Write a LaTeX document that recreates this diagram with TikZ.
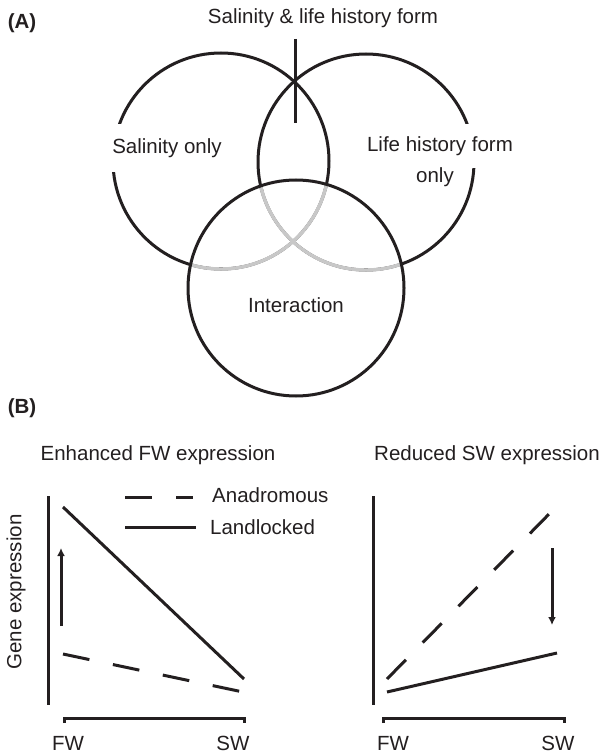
\documentclass[tikz,border=0pt]{standalone}
\usepackage{fontspec}
\setmainfont{Liberation Sans}
\usetikzlibrary{arrows.meta}
\definecolor{ink}{RGB}{35,31,32}
\definecolor{paleline}{RGB}{200,200,200}

\begin{document}
\begin{tikzpicture}[x=1pt,y=-1pt,
    every node/.style={font=\fontsize{20.5pt}{24pt}\selectfont, text=ink, inner sep=1pt},
    venn/.style={draw=ink, line width=3pt},
    axis/.style={draw=ink, line width=3pt},
    landlocked/.style={draw=ink, line width=3pt},
    anadromous/.style={draw=ink, line width=3pt, dash pattern=on 27pt off 24pt},
    shiftarrow/.style={draw=ink, line width=3pt, -{Latex[length=8pt,width=8pt]}},
    panel/.style={font=\fontsize{20.5pt}{24pt}\selectfont\bfseries}]
\useasboundingbox (0,0) rectangle (603,754);
\node[panel] (labA) at (22,23) {(A)};
\draw[venn] (221,161) circle[radius=108];
\draw[venn] (366,162) circle[radius=108];
\begin{scope}
    \clip (296,288) circle[radius=108];
    \draw[venn, draw=paleline, line width=3.4pt] (221,161) circle[radius=108] (366,162) circle[radius=108];
\end{scope}
\draw[venn] (296,288) circle[radius=108];
\node (both) at (323,18) {Salinity \& life history form};
\coordinate (bothtip) at (295,39);
\coordinate (bothend) at (295,123);
\draw[venn] (bothtip)--(bothend);
\node[fill=white, inner xsep=2pt, inner ysep=14pt] (salonly) at (167,148) {Salinity only};
\node[fill=white, inner xsep=2pt, inner ysep=12pt] (lhfonly) at (440,146) {Life history form};
\node (lhfonly2) at (435,177) {only};
\node (inter) at (296,305) {Interaction};

\node[panel] (labB) at (22,408) {(B)};
\node (titleFW) at (158,455) {Enhanced FW expression};
\node (titleSW) at (487,455) {Reduced SW expression};
\node[rotate=90] (ylab) at (16,592) {Gene expression};

\draw[axis] (48,496)--(48,705);
\draw[axis] (64,723)--(64,718)--(244,718)--(244,723);
\node (fwL) at (68,743) {FW};
\node (swL) at (233,743) {SW};
\draw[landlocked] (63,507)--(244,679);
\draw[anadromous] (63,654)--(243,692);
\draw[shiftarrow] (61,626)--(61,548);

\draw[anadromous] (125,497)--(193,497);
\draw[landlocked] (125,527)--(196,527);
\node[anchor=west, inner sep=0pt] (legA) at (212,495) {Anadromous};
\node[anchor=west, inner sep=0pt] (legL) at (210,527) {Landlocked};

\draw[axis] (373,496)--(373,705);
\draw[axis] (383,723)--(383,718)--(564,718)--(564,723);
\node (fwR) at (393,743) {FW};
\node (swR) at (558,743) {SW};
\draw[anadromous] (387,679)--(552,511);
\draw[landlocked] (387,692)--(557,653);
\draw[shiftarrow] (552,548)--(552,625);
\end{tikzpicture}
\end{document}
